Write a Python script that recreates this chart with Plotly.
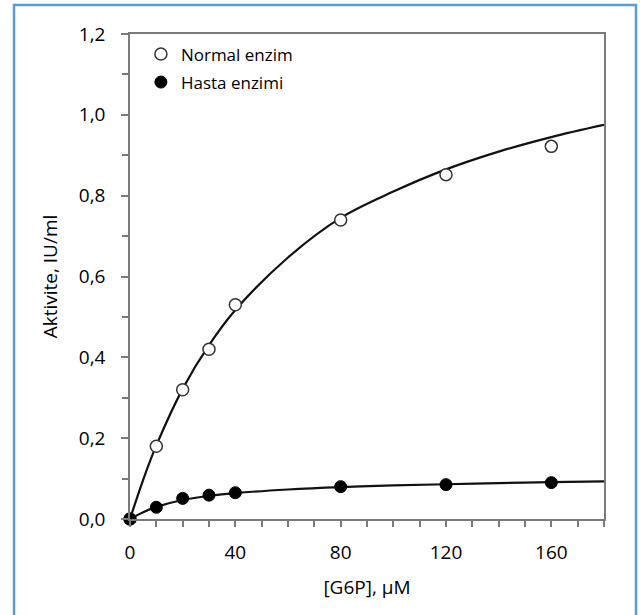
import plotly.graph_objects as go

# Measured activities
g6p_um = [0, 10, 20, 30, 40, 80, 120, 160]
normal_activity = [0.0, 0.18, 0.32, 0.42, 0.53, 0.74, 0.852, 0.922]
patient_activity = [0.0, 0.029, 0.051, 0.059, 0.065, 0.080, 0.085, 0.090]

# Saturation curves (fitted lines)
curve_um = [0, 5, 10, 20, 30, 40, 60, 80, 100, 120, 140, 160, 180]
normal_curve = [0.0, 0.097, 0.182, 0.322, 0.43, 0.517, 0.647, 0.745, 0.81, 0.865, 0.909, 0.945, 0.975]
patient_curve = [0.0, 0.017, 0.03, 0.047, 0.057, 0.064, 0.073, 0.079, 0.083, 0.086, 0.089, 0.091, 0.093]

normal_name = "Normal enzim"
patient_name = "Hasta enzimi"

FONT = "Open Sans"
AXIS_COLOR = "#7a7a7a"
TEXT_COLOR = "#000000"

fig = go.Figure()

fig.add_trace(go.Scatter(
    x=curve_um, y=normal_curve, mode="lines", line=dict(color="#111111", width=2.2, shape="spline"),
    showlegend=False, hoverinfo="skip",
))
fig.add_trace(go.Scatter(
    x=curve_um, y=patient_curve, mode="lines", line=dict(color="#111111", width=2.2, shape="spline"),
    showlegend=False, hoverinfo="skip",
))
fig.add_trace(go.Scatter(
    x=g6p_um, y=normal_activity, mode="markers", name=normal_name, legendgroup="a",
    marker=dict(symbol="circle", size=12, color="white", line=dict(color="#333333", width=1.5)),
    cliponaxis=False,
))
fig.add_trace(go.Scatter(
    x=g6p_um, y=patient_activity, mode="markers", name=patient_name, legendgroup="b",
    marker=dict(symbol="circle", size=12, color="black", line=dict(color="black", width=1)),
    cliponaxis=False,
))

fig.update_layout(
    width=640, height=615,
    margin=dict(l=130, r=36, t=34, b=96),
    paper_bgcolor="white", plot_bgcolor="white",
    separators=",.",
    font=dict(family=FONT, size=19, color=TEXT_COLOR),
    legend=dict(
        x=0.023, y=0.995, xanchor="left", yanchor="top",
        font=dict(family=FONT, size=17, color=TEXT_COLOR),
        bgcolor="rgba(0,0,0,0)", tracegroupgap=3,
    ),
    xaxis=dict(
        range=[0, 180], tickvals=[0, 40, 80, 120, 160], ticks="outside", ticklen=6,
        tickcolor=AXIS_COLOR, tickwidth=1.5,
        showline=True, linecolor=AXIS_COLOR, linewidth=1.5, mirror=True,
        showgrid=False, zeroline=False, ticklabelstandoff=9,
        minor=dict(dtick=10, ticks="outside", ticklen=6, tickcolor=AXIS_COLOR, tickwidth=1.5, showgrid=False),
        title=dict(text="[G6P], µM", standoff=17, font=dict(size=19)),
        automargin=True,
    ),
    yaxis=dict(
        range=[0, 1.2], dtick=0.2, tickformat=".1f", ticks="outside", ticklen=7,
        tickcolor=AXIS_COLOR, tickwidth=1.5,
        showline=True, linecolor=AXIS_COLOR, linewidth=1.5, mirror=True,
        showgrid=False, zeroline=False, ticklabelstandoff=12,
        minor=dict(dtick=0.1, ticks="outside", ticklen=6, tickcolor=AXIS_COLOR, tickwidth=1.5, showgrid=False),
        title=dict(text="Aktivite, IU/ml", standoff=16, font=dict(size=19)),
        automargin=True,
    ),
    shapes=[dict(
        type="rect", xref="paper", yref="paper",
        x0=(14 - 130) / 474, x1=(636 - 130) / 474,
        y0=(519 - 620) / 485, y1=(519 - 5) / 485,
        line=dict(color="#5b9bd5", width=2.5), fillcolor="rgba(0,0,0,0)", layer="below",
    )],
)

fig.write_html("out.html")
